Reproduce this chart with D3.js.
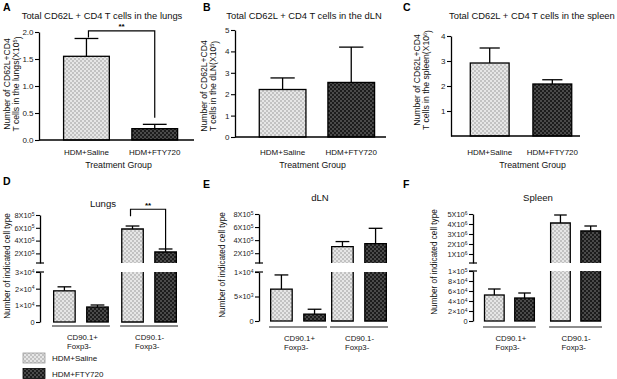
<!DOCTYPE html>
<html><head><meta charset="utf-8">
<script src="https://cdn.jsdelivr.net/npm/d3@7"></script>
<style>body{margin:0;background:#fff}svg{font-family:"Liberation Sans",Arial,sans-serif;display:block}</style>
</head><body><svg id="c" width="617" height="379"></svg>
<script>
// ---------- data ----------
const treatments = ["HDM+Saline", "HDM+FTY720"];
// top panels (A: x10^5, B: x10^5, C: x10^6)
const lungsMean = [1.55, 0.21];
const lungsSem = [0.33, 0.08];
const dlnMean = [2.22, 2.55];
const dlnSem = [0.54, 1.65];
const spleenMean = [2.92, 2.08];
const spleenSem = [0.60, 0.17];
const ticksA = [0, 0.5, 1.0, 1.5, 2.0];
const ticksB = [0, 1, 2, 3, 4, 5];
const ticksC = [1, 2, 3, 4];
// bottom panels
const cellTypes = ["CD90.1+|Foxp3-", "CD90.1-|Foxp3-"];
const lungsSubSaline = [1.87e4, 5.81e5];
const lungsSubSalineSem = [0.24e4, 0.47e5];
const lungsSubFty = [0.90e4, 2.22e5];
const lungsSubFtySem = [0.12e4, 0.47e5];
const dlnSubSaline = [6.5e3, 3.0e5];
const dlnSubSalineSem = [2.9e3, 0.78e5];
const dlnSubFty = [1.4e3, 3.47e5];
const dlnSubFtySem = [1.0e3, 2.34e5];
const spleenSubSaline = [5.2e4, 4.1e6];
const spleenSubSalineSem = [1.2e4, 0.8e6];
const spleenSubFty = [4.6e4, 3.3e6];
const spleenSubFtySem = [1.0e4, 0.5e6];
const ticksDlow = [0, 1e4, 2e4, 3e4];
const ticksDhigh = [2e5, 4e5, 6e5, 8e5];
const ticksElow = [0, 5e3, 1e4];
const ticksEhigh = [2e5, 4e5, 6e5, 8e5];
const ticksFlow = [0, 2e4, 4e4, 6e4, 8e4, 1e5];
const ticksFhigh = [1e6, 2e6, 3e6, 4e6, 5e6];

// ---------- setup ----------
const svg = d3.select("#c");
const defs = svg.append("defs");
function pat(id, bg, fg) {
  const p = defs.append("pattern").attr("id", id).attr("width", 4).attr("height", 4)
    .attr("patternUnits", "userSpaceOnUse");
  p.append("rect").attr("width", 4).attr("height", 4).attr("fill", bg);
  p.append("rect").attr("width", 2).attr("height", 2).attr("fill", fg);
  p.append("rect").attr("x", 2).attr("y", 2).attr("width", 2).attr("height", 2).attr("fill", fg);
}
pat("pSal", "#e6e6e6", "#c2c2c2");
pat("pFty", "#1c1c1c", "#4a4a4a");
const fills = ["url(#pSal)", "url(#pFty)"];

function styleAxis(a, fs) {
  a.select(".domain").attr("stroke", "#000").attr("stroke-width", 1.3);
  a.selectAll(".tick line").attr("stroke", "#000").attr("stroke-width", 1.1);
  a.selectAll(".tick text").attr("font-size", fs).attr("fill", "#222")
    .attr("font-family", '"Liberation Sans",Arial,sans-serif');
}
function sci(v, cap) {
  if (v === 0) return ["0", null];
  const e = Math.floor(Math.log10(v) + 1e-9);
  const m = Math.round(v / Math.pow(10, e));
  return [m + (cap ? "X10" : "\u00d710"), String(e)];
}
function setSup(sel, fn) {
  sel.each(function (d) {
    const t = d3.select(this); t.text(null);
    const [b, e] = fn(d);
    t.append("tspan").text(b);
    if (e) t.append("tspan").attr("dy", "-0.45em").attr("font-size", "0.68em").text(e);
  });
}
function letter(t, x, y) {
  svg.append("text").attr("x", x).attr("y", y).attr("font-size", 10.5).attr("font-weight", "bold").text(t);
}

// ---------- top panels ----------
function topPanel(o) {
  const g = svg.append("g");
  const y = d3.scaleLinear().domain(o.yDomain).range(o.yRange);
  const x = d3.scaleBand().domain(treatments).range(o.xRange)
    .paddingInner(o.pi).paddingOuter(o.po).align(o.align);
  letter(o.letter, o.letterX, 11);
  g.append("text").attr("x", o.titleX).attr("y", 19).attr("text-anchor", o.titleAnchor || "middle")
    .attr("font-size", 9.4).attr("fill", "#111").text(o.title);
  // bars
  treatments.forEach((t, i) => {
    const x0 = x(t), bw = x.bandwidth(), cx = x0 + bw / 2;
    const top = y(o.mean[i]), et = y(o.mean[i] + o.sem[i]);
    g.append("line").attr("x1", cx).attr("x2", cx).attr("y1", top).attr("y2", et)
      .attr("stroke", "#000").attr("stroke-width", 1.3);
    g.append("line").attr("x1", cx - bw * 0.26).attr("x2", cx + bw * 0.26).attr("y1", et).attr("y2", et)
      .attr("stroke", "#000").attr("stroke-width", 1.3);
    g.append("rect").attr("x", x0).attr("y", top).attr("width", bw).attr("height", y(0) - top)
      .attr("fill", fills[i]).attr("stroke", "#000").attr("stroke-width", 1.3);
    g.append("text").attr("x", cx).attr("y", 155).attr("text-anchor", "middle")
      .attr("font-size", 8).attr("fill", "#111").text(t);
  });
  const ax = g.append("g").attr("transform", `translate(${o.xRange[0]},0)`)
    .call(d3.axisLeft(y).tickValues(o.ticks).tickFormat(o.fmt).tickSize(4).tickSizeOuter(0).tickPadding(1.5));
  styleAxis(ax, 8);
  g.append("line").attr("x1", o.xRange[0]).attr("x2", o.xRange[1]).attr("y1", y(0)).attr("y2", y(0))
    .attr("stroke", "#000").attr("stroke-width", 1.3);
  g.append("text").attr("x", (o.xRange[0] + o.xRange[1]) / 2 + o.tgDx).attr("y", 168).attr("text-anchor", "middle")
    .attr("font-size", 8.8).attr("fill", "#111").text("Treatment Group");
  // y label
  const yl = g.append("text").attr("transform", `translate(${o.labelX},${o.labelY}) rotate(-90)`)
    .attr("text-anchor", "middle").attr("font-size", 8.6).attr("fill", "#111");
  yl.append("tspan").attr("x", 0).attr("dy", 0).text("Number of CD62L+CD4");
  const l2 = yl.append("tspan").attr("x", 0).attr("dy", "1.1em");
  l2.append("tspan").text(o.line2 + "(X10");
  l2.append("tspan").attr("dy", "-0.45em").attr("font-size", "0.65em").text(o.sup);
  l2.append("tspan").attr("dy", "0.45em").text(")");
  if (o.bracket) {
    const b = o.bracket;
    const c1 = x(treatments[0]) + x.bandwidth() / 2 + 2, c2 = x(treatments[1]) + x.bandwidth() / 2;
    g.append("path").attr("fill", "none").attr("stroke", "#000").attr("stroke-width", 1.2)
      .attr("d", `M${c1},${y(b[1])}V${y(b[0])}H${c2}V${y(b[2])}`);
    g.append("text").attr("x", (c1 + c2) / 2).attr("y", y(b[0]) - 1.5).attr("text-anchor", "middle")
      .attr("font-size", 8).attr("font-weight", "bold").text("**");
  }
}

topPanel({letter: "A", letterX: 3, title: "Total CD62L + CD4 T cells in the lungs", titleX: 102,
  mean: lungsMean, sem: lungsSem, yDomain: [0, 2], yRange: [140, 32], ticks: ticksA, fmt: d3.format(".1f"),
  xRange: [39, 194], pi: 0.33, po: 0.3, align: 0.6, tgDx: 2, labelX: 10, labelY: 84, line2: "T cells in the lungs", sup: "5",
  bracket: [2.02, 1.9, 0.41]});
topPanel({letter: "B", letterX: 203, title: "Total CD62L + CD4 T cells in the dLN", titleX: 304,
  mean: dlnMean, sem: dlnSem, yDomain: [0, 5], yRange: [137, 30], ticks: ticksB, fmt: d3.format("d"),
  xRange: [235, 386], pi: 0.32, po: 0.26, align: 0.68, tgDx: 2, labelX: 207, labelY: 86, line2: "T cells in the dLN", sup: "5"});
topPanel({letter: "C", letterX: 403, title: "Total CD62L + CD4 T cells in the spleen", titleX: 449, titleAnchor: "start",
  mean: spleenMean, sem: spleenSem, yDomain: [0, 4], yRange: [136, 36], ticks: ticksC, fmt: d3.format("d"),
  xRange: [451, 580], pi: 0.38, po: 0.22, align: 0.7, tgDx: 17, labelX: 420, labelY: 80, line2: "T cells in the spleen", sup: "6"});

// ---------- bottom panels ----------
function bottomPanel(o) {
  const g = svg.append("g");
  letter(o.letter, o.letterX, o.letterY);
  g.append("text").attr("x", o.titleX).attr("y", o.titleY).attr("text-anchor", "middle")
    .attr("font-size", 9.6).attr("fill", "#111").text(o.title);
  const yLo = d3.scaleLinear().domain([0, o.loMax]).range([o.y0, o.loTop]);
  const yHi = d3.scaleLinear().domain([o.hiMin, o.hiMax]).range([o.hiBottom, o.hiTop]);
  const x = d3.scaleBand().domain(cellTypes).range(o.xRange).paddingInner(o.pi);
  const xi = d3.scaleBand().domain(treatments).range([0, x.bandwidth()]).paddingInner(0.35).paddingOuter(0.05);
  const sw = 1.3;
  cellTypes.forEach((c, ci) => {
    treatments.forEach((t, ti) => {
      const v = o.means[ti][ci], s = o.sems[ti][ci];
      const x0 = x(c) + xi(t), bw = xi.bandwidth(), cx = x0 + bw / 2;
      const yv = v <= o.loMax ? yLo : yHi;
      const top = yv(v), et = yv(v + s);
      g.append("line").attr("x1", cx).attr("x2", cx).attr("y1", top).attr("y2", et).attr("stroke", "#000").attr("stroke-width", sw);
      g.append("line").attr("x1", cx - bw * 0.32).attr("x2", cx + bw * 0.32).attr("y1", et).attr("y2", et).attr("stroke", "#000").attr("stroke-width", sw);
      if (v <= o.loMax) {
        g.append("rect").attr("x", x0).attr("y", top).attr("width", bw).attr("height", o.y0 - top)
          .attr("fill", fills[ti]).attr("stroke", "#000").attr("stroke-width", sw);
      } else {
        g.append("rect").attr("x", x0).attr("y", o.loTop).attr("width", bw).attr("height", o.y0 - o.loTop).attr("fill", fills[ti]);
        g.append("path").attr("fill", "none").attr("stroke", "#000").attr("stroke-width", sw)
          .attr("d", `M${x0},${o.loTop}V${o.y0}H${x0 + bw}V${o.loTop}`);
        g.append("rect").attr("x", x0).attr("y", top).attr("width", bw).attr("height", o.hiBottom - top).attr("fill", fills[ti]);
        g.append("path").attr("fill", "none").attr("stroke", "#000").attr("stroke-width", sw)
          .attr("d", `M${x0},${o.hiBottom}V${top}H${x0 + bw}V${o.hiBottom}`);
      }
    });
    // group line + label
    g.append("line").attr("x1", x(c)).attr("x2", x(c) + x.bandwidth()).attr("y1", o.gy).attr("y2", o.gy)
      .attr("stroke", "#8c8c8c").attr("stroke-width", 2);
    const parts = c.split("|");
    const tx = g.append("text").attr("x", x(c) + x.bandwidth() / 2 - 14).attr("y", o.gy + 14)
      .attr("font-size", 7.8).attr("fill", "#111");
    tx.append("tspan").attr("x", x(c) + x.bandwidth() / 2 - 14).text(parts[0]);
    tx.append("tspan").attr("x", x(c) + x.bandwidth() / 2 - 14).attr("dy", "1.15em").text(parts[1]);
  });
  const aLo = g.append("g").attr("transform", `translate(${o.axisX},0)`)
    .call(d3.axisLeft(yLo).tickValues(o.ticksLo).tickSize(4).tickSizeOuter(0).tickPadding(1.5));
  styleAxis(aLo, 7.4);
  setSup(aLo.selectAll(".tick text"), d => sci(d, false));
  const aHi = g.append("g").attr("transform", `translate(${o.axisX},0)`)
    .call(d3.axisLeft(yHi).tickValues(o.ticksHi).tickSize(4).tickSizeOuter(0).tickPadding(1.5));
  styleAxis(aHi, 7.4);
  setSup(aHi.selectAll(".tick text"), d => sci(d, true));
  [o.hiBottom, o.loTop].forEach(yy => g.append("line").attr("x1", o.axisX - 4).attr("x2", o.axisX + 4)
    .attr("y1", yy).attr("y2", yy).attr("stroke", "#000").attr("stroke-width", 1.2));
  g.append("text").attr("transform", `translate(${o.labelX},${o.labelY}) rotate(-90)`)
    .attr("text-anchor", "middle").attr("font-size", 8.2).attr("fill", "#111").text("Number of indicated cell type");
  if (o.bracket) {
    const b = o.bracket, c = cellTypes[1];
    const c1 = x(c) + xi(treatments[0]) + xi.bandwidth() / 2 - 2, c2 = x(c) + xi(treatments[1]) + xi.bandwidth() / 2;
    g.append("path").attr("fill", "none").attr("stroke", "#000").attr("stroke-width", 1.2)
      .attr("d", `M${c1},${yHi(b[1])}V${yHi(b[0])}H${c2}V${yHi(b[2])}`);
    g.append("text").attr("x", (c1 + c2) / 2).attr("y", yHi(b[0]) - 1.5).attr("text-anchor", "middle")
      .attr("font-size", 8).attr("font-weight", "bold").text("**");
  }
}

bottomPanel({letter: "D", letterX: 3, letterY: 185, title: "Lungs", titleX: 103, titleY: 207,
  means: [lungsSubSaline, lungsSubFty], sems: [lungsSubSalineSem, lungsSubFtySem],
  y0: 322, loTop: 272, loMax: 3e4, hiMin: 5e4, hiMax: 8e5, hiBottom: 263, hiTop: 215,
  ticksLo: ticksDlow, ticksHi: ticksDhigh, xRange: [52, 178], pi: 0.15, axisX: 40, gy: 326,
  labelX: 10, labelY: 266, bracket: [8.9e5, 7.8e5, 2.7e5]});
bottomPanel({letter: "E", letterX: 203, letterY: 188, title: "dLN", titleX: 320, titleY: 201,
  means: [dlnSubSaline, dlnSubFty], sems: [dlnSubSalineSem, dlnSubFtySem],
  y0: 321, loTop: 272, loMax: 1e4, hiMin: 5e4, hiMax: 8e5, hiBottom: 263, hiTop: 214,
  ticksLo: ticksElow, ticksHi: ticksEhigh, xRange: [269, 388], pi: 0.05, axisX: 259, gy: 327,
  labelX: 225, labelY: 265});
bottomPanel({letter: "F", letterX: 403, letterY: 188, title: "Spleen", titleX: 538, titleY: 201,
  means: [spleenSubSaline, spleenSubFty], sems: [spleenSubSalineSem, spleenSubFtySem],
  y0: 321, loTop: 271, loMax: 1e5, hiMin: 1e5, hiMax: 5e6, hiBottom: 263, hiTop: 214,
  ticksLo: ticksFlow, ticksHi: ticksFhigh, xRange: [483, 602], pi: 0.2, axisX: 473, gy: 327,
  labelX: 437, labelY: 262});

// ---------- legend ----------
const lg = svg.append("g");
treatments.forEach((t, i) => {
  const yy = 353 + i * 15.5;
  lg.append("rect").attr("x", 23).attr("y", yy).attr("width", 22).attr("height", 10)
    .attr("fill", fills[i]).attr("stroke", i ? "#000" : "#9a9a9a").attr("stroke-width", 0.8);
  lg.append("text").attr("x", 52).attr("y", yy + 8).attr("font-size", 8).attr("fill", "#111").text(t);
});
</script></body></html>
